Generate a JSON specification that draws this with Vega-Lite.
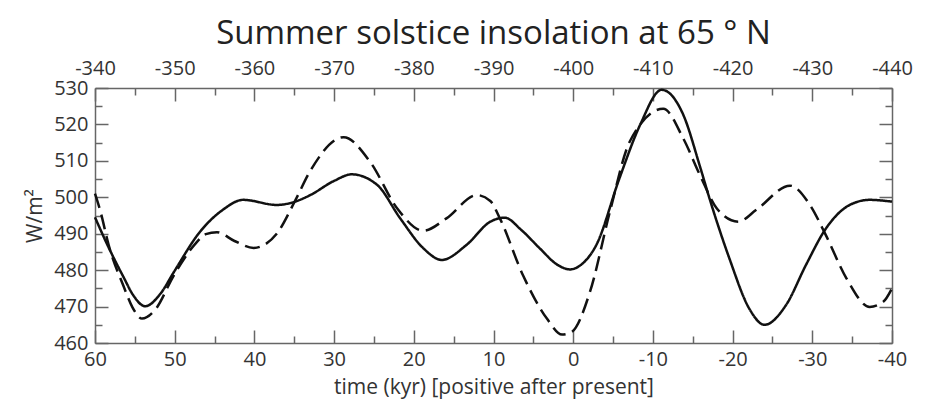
{
  "$schema": "https://vega.github.io/schema/vega-lite/v6.json",
  "width": 797,
  "height": 255,
  "autosize": "none",
  "padding": {"left": 95, "top": 88, "right": 46, "bottom": 77},
  "background": "white",
  "title": {"text": "Summer solstice insolation at 65 ° N", "fontSize": 33, "font": "Open Sans", "fontWeight": "normal", "color": "#222", "offset": 1, "anchor": "middle"},
  "config": {
    "view": {"stroke": null},
    "axis": {"labelFont": "Open Sans", "titleFont": "Open Sans", "labelFontSize": 20, "titleFontSize": 21, "titleFontWeight": "normal", "labelColor": "#333", "titleColor": "#333", "domainColor": "#666", "tickColor": "#666", "domainWidth": 1.5, "tickWidth": 1.5, "grid": false, "labelOverlap": false, "labelFlush": false}
  },
  "datasets": {
    "series": [
      {"series": "solid", "t": 60, "w": 494.5},
      {"series": "solid", "t": 58.5, "w": 487.2},
      {"series": "solid", "t": 56.4, "w": 478},
      {"series": "solid", "t": 55.2, "w": 473.1},
      {"series": "solid", "t": 53.7, "w": 470.1},
      {"series": "solid", "t": 51.8, "w": 473.5},
      {"series": "solid", "t": 50.1, "w": 479.5},
      {"series": "solid", "t": 46.8, "w": 490.6},
      {"series": "solid", "t": 44, "w": 496.5},
      {"series": "solid", "t": 41.4, "w": 499.3},
      {"series": "solid", "t": 37.2, "w": 497.9},
      {"series": "solid", "t": 34.9, "w": 498.8},
      {"series": "solid", "t": 33, "w": 500.6},
      {"series": "solid", "t": 30, "w": 504.5},
      {"series": "solid", "t": 27.8, "w": 506.3},
      {"series": "solid", "t": 24.6, "w": 503.4},
      {"series": "solid", "t": 21.7, "w": 494.2},
      {"series": "solid", "t": 18.8, "w": 486},
      {"series": "solid", "t": 16.5, "w": 482.8},
      {"series": "solid", "t": 13.4, "w": 486.9},
      {"series": "solid", "t": 10.4, "w": 493.3},
      {"series": "solid", "t": 8.6, "w": 494.4},
      {"series": "solid", "t": 6.5, "w": 491},
      {"series": "solid", "t": 4.2, "w": 486},
      {"series": "solid", "t": 2, "w": 481.5},
      {"series": "solid", "t": 0.4, "w": 480.2},
      {"series": "solid", "t": -1, "w": 481.5},
      {"series": "solid", "t": -2.9, "w": 486.9},
      {"series": "solid", "t": -5.8, "w": 505.2},
      {"series": "solid", "t": -8.4, "w": 519.9},
      {"series": "solid", "t": -11.1, "w": 529.5},
      {"series": "solid", "t": -13.8, "w": 522.7},
      {"series": "solid", "t": -15.9, "w": 508.5},
      {"series": "solid", "t": -17.1, "w": 499.7},
      {"series": "solid", "t": -19.6, "w": 483.2},
      {"series": "solid", "t": -22.1, "w": 469.4},
      {"series": "solid", "t": -24, "w": 465},
      {"series": "solid", "t": -26.7, "w": 470.4},
      {"series": "solid", "t": -29.2, "w": 481.4},
      {"series": "solid", "t": -31.7, "w": 491.4},
      {"series": "solid", "t": -34.7, "w": 497.9},
      {"series": "solid", "t": -37.2, "w": 499.3},
      {"series": "solid", "t": -40, "w": 498.8},
      {"series": "dashed", "t": 60, "w": 501},
      {"series": "dashed", "t": 59.3, "w": 496},
      {"series": "dashed", "t": 58.3, "w": 487},
      {"series": "dashed", "t": 56.4, "w": 475.5},
      {"series": "dashed", "t": 55.3, "w": 469.8},
      {"series": "dashed", "t": 54.1, "w": 466.7},
      {"series": "dashed", "t": 52.5, "w": 469},
      {"series": "dashed", "t": 50.1, "w": 478.6},
      {"series": "dashed", "t": 47.5, "w": 487},
      {"series": "dashed", "t": 46.1, "w": 489.9},
      {"series": "dashed", "t": 44.7, "w": 490.4},
      {"series": "dashed", "t": 42.5, "w": 488},
      {"series": "dashed", "t": 40.1, "w": 486.1},
      {"series": "dashed", "t": 37.2, "w": 490},
      {"series": "dashed", "t": 34.9, "w": 499},
      {"series": "dashed", "t": 33, "w": 507.2},
      {"series": "dashed", "t": 28.8, "w": 516.5},
      {"series": "dashed", "t": 25.5, "w": 509.8},
      {"series": "dashed", "t": 22.1, "w": 497},
      {"series": "dashed", "t": 18.8, "w": 490.8},
      {"series": "dashed", "t": 15.9, "w": 494.2},
      {"series": "dashed", "t": 12.1, "w": 500.6},
      {"series": "dashed", "t": 10.4, "w": 499},
      {"series": "dashed", "t": 9.2, "w": 494.2},
      {"series": "dashed", "t": 6.3, "w": 478.6},
      {"series": "dashed", "t": 3.3, "w": 466.7},
      {"series": "dashed", "t": 1.4, "w": 462.3},
      {"series": "dashed", "t": 0.2, "w": 463},
      {"series": "dashed", "t": -2.1, "w": 474},
      {"series": "dashed", "t": -4.6, "w": 496},
      {"series": "dashed", "t": -7.1, "w": 515.3},
      {"series": "dashed", "t": -11.3, "w": 524.3},
      {"series": "dashed", "t": -13.8, "w": 516.2},
      {"series": "dashed", "t": -15.9, "w": 506.1},
      {"series": "dashed", "t": -18, "w": 497},
      {"series": "dashed", "t": -20.7, "w": 493.3},
      {"series": "dashed", "t": -23, "w": 496.6},
      {"series": "dashed", "t": -27.2, "w": 503.2},
      {"series": "dashed", "t": -29.7, "w": 497.9},
      {"series": "dashed", "t": -31.7, "w": 489.6},
      {"series": "dashed", "t": -34.3, "w": 477.7},
      {"series": "dashed", "t": -37.2, "w": 469.9},
      {"series": "dashed", "t": -38.9, "w": 471.3},
      {"series": "dashed", "t": -40, "w": 475}
    ],
    "frame": [
      {"top": -340, "w": 460},
      {"top": -440, "w": 530}
    ]
  },
  "layer": [
    {
      "data": {"name": "series"},
      "mark": {"type": "line", "interpolate": "monotone", "color": "#111", "strokeWidth": 2.5},
      "encoding": {
        "x": {
          "field": "t", "type": "quantitative",
          "scale": {"domain": [-40, 60], "reverse": true, "nice": false, "zero": false},
          "axis": {
            "orient": "bottom",
            "title": "time (kyr) [positive after present]",
            "values": [60, 55, 50, 45, 40, 35, 30, 25, 20, 15, 10, 5, 0, -5, -10, -15, -20, -25, -30, -35, -40],
            "labelExpr": "datum.value % 10 === 0 ? toString(datum.value) : ''",
            "tickSize": {"condition": {"test": "datum.value % 10 === 0", "value": -13}, "value": -7},
            "labelPadding": 19,
            "titlePadding": 1
          }
        },
        "y": {
          "field": "w", "type": "quantitative",
          "scale": {"domain": [460, 530], "nice": false, "zero": false},
          "axis": {
            "orient": "left",
            "title": "W/m²",
            "values": [460, 465, 470, 475, 480, 485, 490, 495, 500, 505, 510, 515, 520, 525, 530],
            "labelExpr": "datum.value % 10 === 0 ? toString(datum.value) : ''",
            "tickSize": {"condition": {"test": "datum.value % 10 === 0", "value": -13}, "value": -7},
            "labelPadding": 20,
            "titlePadding": 8
          }
        },
        "strokeDash": {
          "field": "series", "type": "nominal",
          "scale": {"domain": ["solid", "dashed"], "range": [[1, 0], [15, 7]]},
          "legend": null
        }
      }
    },
    {
      "data": {"name": "frame"},
      "mark": {"type": "point", "opacity": 0},
      "encoding": {
        "x": {
          "field": "top", "type": "quantitative",
          "scale": {"domain": [-440, -340], "reverse": true, "nice": false, "zero": false},
          "axis": {
            "orient": "top",
            "title": null,
            "values": [-340, -345, -350, -355, -360, -365, -370, -375, -380, -385, -390, -395, -400, -405, -410, -415, -420, -425, -430, -435, -440],
            "labelExpr": "datum.value % 10 === 0 ? toString(datum.value) : ''",
            "tickSize": {"condition": {"test": "datum.value % 10 === 0", "value": -13}, "value": -7},
            "labelPadding": 23
          }
        },
        "y": {
          "field": "w", "type": "quantitative",
          "scale": {"domain": [460, 530], "nice": false, "zero": false},
          "axis": {
            "orient": "right",
            "title": null,
            "labels": false,
            "values": [460, 465, 470, 475, 480, 485, 490, 495, 500, 505, 510, 515, 520, 525, 530],
            "tickSize": {"condition": {"test": "datum.value % 10 === 0", "value": -13}, "value": -7}
          }
        }
      }
    }
  ],
  "resolve": {"scale": {"x": "independent", "y": "independent"}}
}
